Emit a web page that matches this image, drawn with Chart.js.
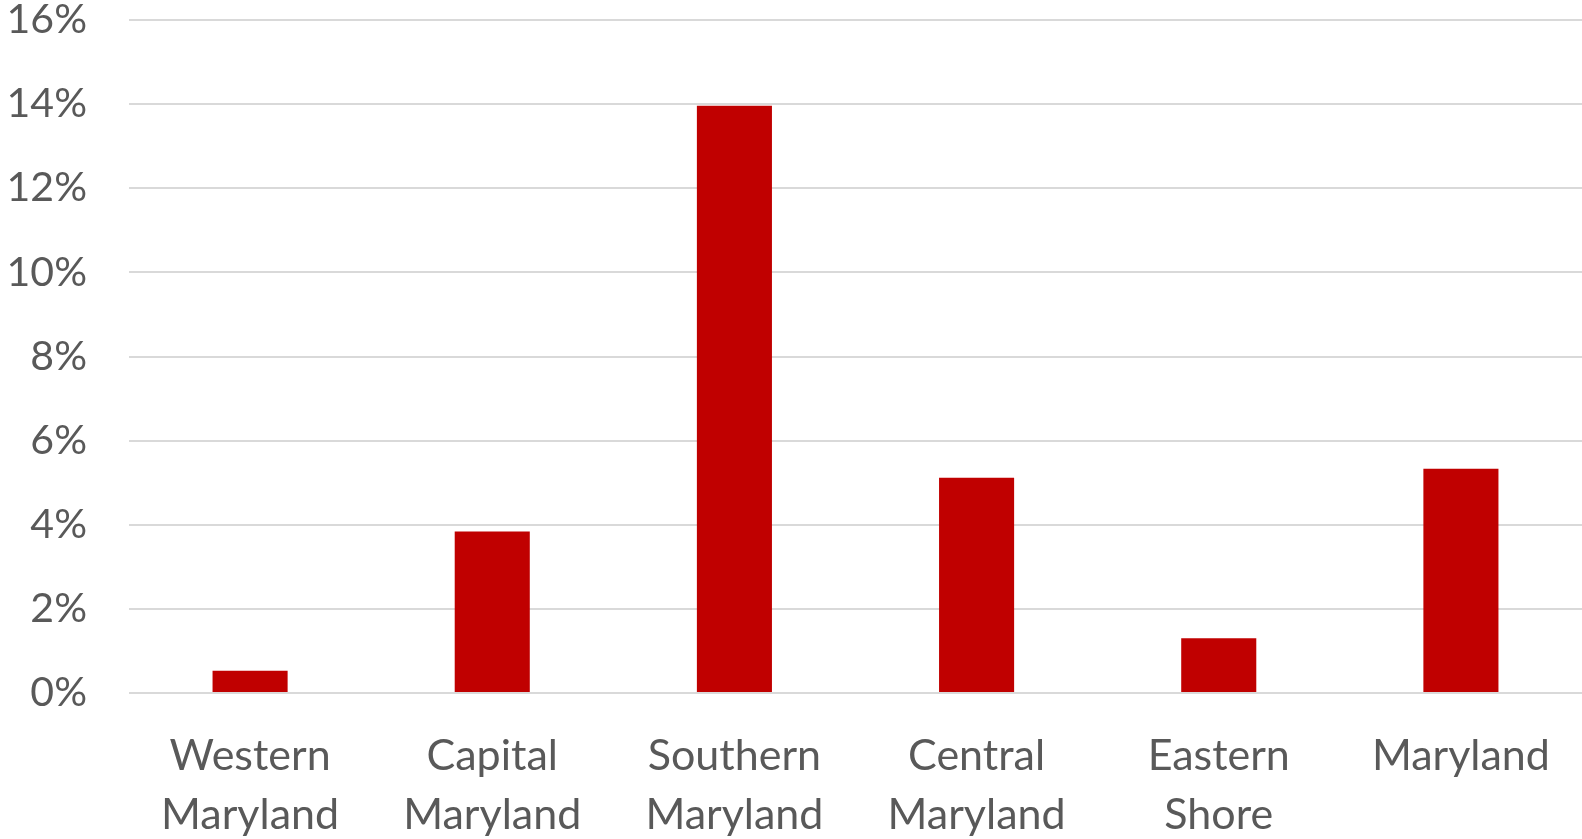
<!DOCTYPE html>
<html>
<head>
<meta charset="utf-8">
<script src="https://cdn.jsdelivr.net/npm/chart.js@4"></script>
<style>
  html, body { margin: 0; padding: 0; background: #fff; overflow: hidden; }
  #wrap { position: relative; width: 1582px; height: 839px; }
</style>
</head>
<body>
<div id="wrap"><canvas id="chart"></canvas></div>
<script>
const regions = [
    ['Western', 'Maryland'],
    ['Capital', 'Maryland'],
    ['Southern', 'Maryland'],
    ['Central', 'Maryland'],
    ['Eastern', 'Shore'],
    'Maryland'
];
const shares = [0.53, 3.84, 13.96, 5.12, 1.30, 5.33];

const ctx = document.getElementById('chart').getContext('2d');
new Chart(ctx, {
    type: 'bar',
    data: {
        labels: regions,
        datasets: [{
            data: shares,
            backgroundColor: '#C00000',
            barPercentage: 0.31,
            categoryPercentage: 1
        }]
    },
    options: {
        responsive: true,
        maintainAspectRatio: false,
        animation: false,
        layout: { padding: { top: 0, right: 0, bottom: 0, left: 0 } },
        plugins: { legend: { display: false }, tooltip: { enabled: false } },
        scales: {
            x: {
                grid: { display: false },
                border: { display: false },
                ticks: {
                    color: '#595959',
                    font: { family: 'Lato', size: 43, lineHeight: 1.36 },
                    padding: 26,
                    maxRotation: 0,
                    autoSkip: false
                },
                afterFit: scale => {
                    scale.paddingLeft = 0;
                    scale.paddingRight = 0;
                    scale.height = 146;
                }
            },
            y: {
                min: 0,
                max: 16,
                grid: { color: '#D9D9D9', lineWidth: 2, drawTicks: false },
                border: { display: false },
                ticks: {
                    stepSize: 2,
                    color: '#595959',
                    font: { family: 'Lato', size: 41 },
                    padding: 42,
                    callback: v => v + '%'
                },
                afterFit: scale => {
                    scale.width = 129;
                    scale.paddingTop = 20;
                    scale.paddingBottom = 0;
                }
            }
        }
    }
});
</script>
</body>
</html>
